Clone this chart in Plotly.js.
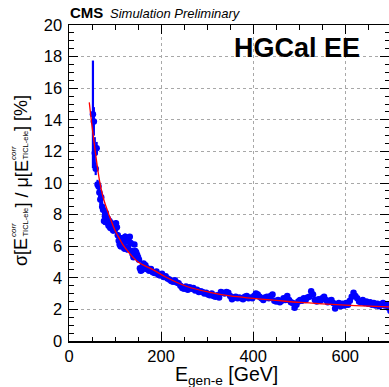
<!DOCTYPE html>
<html><head><meta charset="utf-8">
<script src="https://cdn.plot.ly/plotly-3.0.1.min.js"></script>
<style>html,body{margin:0;padding:0;background:#fff}#c{width:389px;height:387px}</style>
</head><body><div id="c"></div>
<script>
// Energies (GeV) of the measured points
const energy = [52,54,56,58,60,62,64,66,68,70,72,74,76,78,80,82,84,86,88,90,92,94,96,98,100,102,104,106,108,110,112,114,116,118,120,122,124,126,128,130,132,134,136,138,140,142,144,146,148,150,152,154,156,158,160,162,164,166,168,170,174,178,182,186,190,194,198,202,206,210,214,218,222,226,230,234,238,242,246,250,254,258,262,266,270,274,278,282,286,290,294,298,302,306,310,314,318,322,326,330,334,338,342,346,350,354,358,362,366,370,374,378,382,386,390,394,398,402,406,410,414,418,422,426,430,434,438,442,446,450,454,458,462,466,470,474,478,482,486,490,494,498,502,506,510,514,518,522,526,530,534,538,542,546,550,554,558,562,566,570,574,578,582,586,590,594,598,602,606,610,614,618,622,626,630,634,638,642,646,650,654,658,662,666,670,674,678,682,686,690,694,698];
// Relative resolution sigma/mu [%]
const resolution = [14.35,13.9,11.9,10.9,12.2,9.9,9.8,9.4,8.95,9.1,8.5,8.3,7.6,7.9,8.1,7.5,7.75,7.3,7.6,7.15,7.45,7.2,7.0,7.3,7.05,7.45,7.2,6.7,6.35,6.1,6.0,6.5,6.4,6.0,5.85,6.6,6.3,5.8,5.9,6.3,6.6,6.2,5.7,5.5,5.3,6.1,5.7,5.6,5.45,5.3,5.15,4.6,4.45,4.5,4.75,4.9,4.7,4.8,4.55,4.6,4.45,4.55,4.35,4.3,4.4,4.2,4.15,4.25,4.05,4.1,3.95,3.9,3.8,3.75,3.85,3.7,3.65,3.5,3.35,3.3,3.45,3.25,3.4,3.3,3.35,3.2,3.25,3.1,3.15,3.1,3.0,3.05,2.95,2.9,3.0,2.85,2.8,2.9,2.75,3.1,3.05,3.0,3.1,3.05,2.85,2.65,2.75,2.8,2.7,2.75,2.7,2.65,2.8,2.85,2.7,2.75,2.7,2.85,3.0,2.95,2.8,2.7,2.6,2.75,2.8,2.7,2.85,2.95,2.55,2.5,2.6,2.45,2.55,2.7,2.6,2.85,2.6,2.45,2.4,2.1,2.3,2.5,2.6,2.55,2.7,2.6,2.75,2.8,3.15,2.95,2.6,2.5,2.65,2.55,2.7,2.8,2.6,2.45,2.55,2.6,2.4,2.05,2.3,2.4,2.2,2.35,2.25,2.4,2.3,2.55,2.8,3.05,2.85,2.7,2.5,2.45,2.6,2.4,2.5,2.35,2.45,2.3,2.4,2.25,2.35,2.2,2.3,2.4,2.25,2.3,2.1,1.9];
// Uncertainty on each point [%]
const resolutionErr = [3.4,0.9,1.0,0.4,0.4,0.3,0.3,0.3,0.35,0.3,0.3,0.3,0.25,0.3,0.3,0.25,0.25,0.25,0.2,0.2,0.2,0.2,0.2,0.2,0.2,0.2,0.2,0.2,0.2,0.2,0.2,0.2,0.2,0.2,0.2,0.2,0.2,0.2,0.2,0.15,0.15,0.15,0.15,0.15,0.15,0.15,0.15,0.15,0.15,0.15,0.15,0.15,0.15,0.15,0.15,0.15,0.15,0.15,0.15,0.15,0.15,0.15,0.15,0.15,0.15,0.15,0.15,0.12,0.12,0.12,0.12,0.12,0.12,0.12,0.12,0.12,0.12,0.12,0.12,0.12,0.12,0.12,0.12,0.12,0.12,0.12,0.12,0.12,0.12,0.12,0.12,0.12,0.12,0.12,0.12,0.12,0.12,0.12,0.12,0.12,0.12,0.12,0.12,0.12,0.12,0.12,0.12,0.12,0.12,0.12,0.12,0.12,0.12,0.12,0.12,0.12,0.12,0.12,0.12,0.12,0.12,0.12,0.12,0.12,0.12,0.12,0.12,0.12,0.12,0.12,0.12,0.12,0.12,0.12,0.12,0.12,0.12,0.12,0.12,0.12,0.12,0.12,0.12,0.12,0.12,0.12,0.12,0.12,0.12,0.12,0.12,0.12,0.12,0.12,0.12,0.12,0.12,0.12,0.12,0.12,0.12,0.12,0.12,0.12,0.12,0.12,0.12,0.12,0.12,0.12,0.12,0.12,0.12,0.12,0.12,0.12,0.12,0.12,0.12,0.12,0.12,0.12,0.12,0.12,0.12,0.12,0.12];
// Fit curve
const fitEnergy = [44,50,57,66,75,88,100,111,118,130,150,183,210,256,306,350,400,450,502,550,600,650,700];
const fitResolution = [15.1,13.6,12.0,10.2,9.0,7.9,7.0,6.4,6.05,5.6,5.0,4.5,4.05,3.45,3.08,2.85,2.7,2.57,2.44,2.35,2.27,2.21,2.15];
const xTickVals = [0,200,400,600];
const yTickVals = [0,2,4,6,8,10,12,14,16,18,20];

const L=69, R=389, T=25, B=341;
const px = v => (v-L)/(R-L);
const py = v => (B-v)/(B-T);
const FONT = 'Liberation Sans, Arial, sans-serif';

const traces = [
  {x: energy, y: resolution, type:'scatter', mode:'markers',
   marker:{color:'#0000ff', size:6.5, line:{width:0}},
   error_y:{type:'data', array: resolutionErr, color:'#0000ff', thickness:2.2, width:0},
   hoverinfo:'skip'},
  {x: fitEnergy, y: fitResolution, type:'scatter', mode:'lines',
   line:{color:'#ff0000', width:1.3, shape:'spline', smoothing:1.0}, hoverinfo:'skip'}
];

function ytPiece(text, startPy, cx, size, italic){
  return {text: italic ? '<i>'+text+'</i>' : text, textangle:-90, xref:'paper', yref:'paper',
    x: px(cx), y: py(startPy), xanchor:'center', yanchor:'bottom', showarrow:false,
    font:{family:FONT, size:size, color:'#000'}, borderpad:0};
}

const annotations = [
  {text:'<b>CMS</b>', xref:'paper', yref:'paper', x:px(69), y:py(22), xanchor:'left', yanchor:'bottom',
   showarrow:false, font:{family:FONT, size:15, color:'#000'}, borderpad:0},
  {text:'<i>Simulation Preliminary</i>', xref:'paper', yref:'paper', x:px(109), y:py(22), xanchor:'left', yanchor:'bottom',
   showarrow:false, font:{family:FONT, size:13, color:'#000'}, borderpad:0},
  {text:'<b>HGCal EE</b>', xref:'paper', yref:'paper', x:px(297), y:py(48), xanchor:'center', yanchor:'middle',
   showarrow:false, font:{family:FONT, size:27, color:'#000'}},
  {text:'E<sub>gen-e</sub> [GeV]', xref:'paper', yref:'paper', x:px(174), y:py(362), xanchor:'left', yanchor:'top',
   showarrow:false, font:{family:FONT, size:19.5, color:'#000'}, borderpad:0},
  ytPiece('σ[E', 267, 21, 18, false),
  ytPiece('TICL-ele', 238, 25, 7.5, false),
  ytPiece('corr', 238, 13, 8, true),
  ytPiece('] / μ[E', 209, 21, 18, false),
  ytPiece('TICL-ele', 161, 25, 7.5, false),
  ytPiece('corr', 161, 13, 8, true),
  ytPiece('] [%]', 132, 21, 18, false)
];

const axisCommon = {showline:true, linecolor:'#000', linewidth:1.5, mirror:'ticks', ticks:'inside',
  tickcolor:'#000', tickwidth:1, zeroline:false, gridcolor:'#a8a8a8', griddash:'dot', gridwidth:1,
  tickfont:{family:FONT, size:16.5, color:'#000'}};

const layout = {
  width:389, height:387, margin:{l:L, r:389-R, t:T, b:387-B}, paper_bgcolor:'#fff', plot_bgcolor:'#fff',
  showlegend:false,
  xaxis: Object.assign({}, axisCommon, {range:[0,695], tickvals:xTickVals, ticktext:xTickVals.map(String), ticklen:9,
    ticklabelstandoff:0, minor:{dtick:50, tick0:0, ticklen:4.5, ticks:'inside', tickcolor:'#000', showgrid:false}}),
  yaxis: Object.assign({}, axisCommon, {range:[0,20], tickvals:yTickVals, ticktext:yTickVals.map(String), ticklen:9,
    ticklabelstandoff:2, minor:{dtick:0.5, tick0:0, ticklen:4.5, ticks:'inside', tickcolor:'#000', showgrid:false}}),
  shapes:[{type:'rect', xref:'paper', yref:'paper', x0:px(207), x1:px(380), y0:py(107), y1:py(25.8),
    fillcolor:'#fff', line:{width:0}, layer:'between'}],
  annotations: annotations
};
Plotly.newPlot('c', traces, layout, {staticPlot:true, displayModeBar:false});
</script></body></html>
